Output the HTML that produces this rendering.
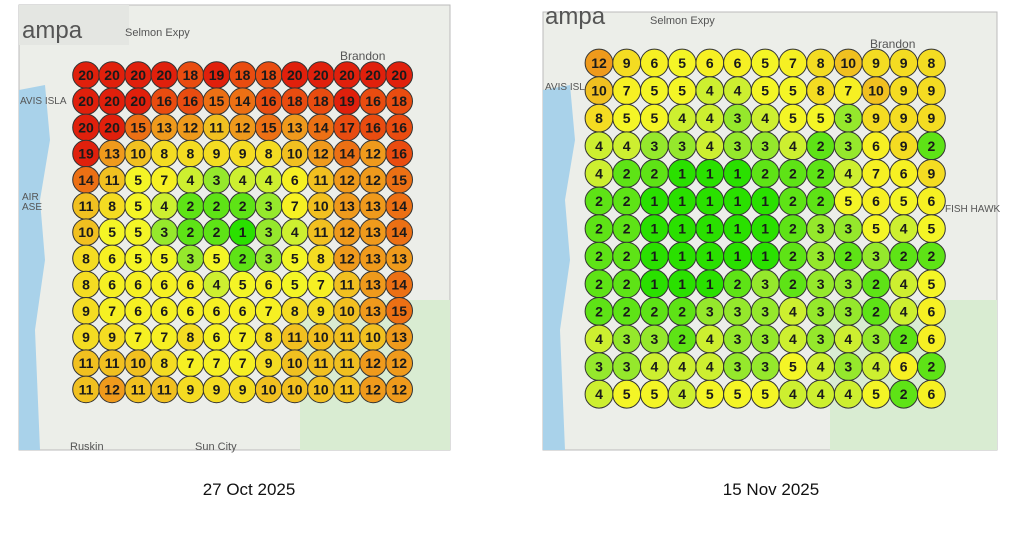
<!DOCTYPE html>
<html><head><meta charset="utf-8"><style>
html,body{margin:0;padding:0;background:#fff;width:1023px;height:534px;overflow:hidden;font-family:"Liberation Sans",sans-serif}
svg{position:absolute;left:0;top:0}
</style></head><body>
<svg id="chart" width="1023" height="534">
  <g>
    <rect x="19" y="5" width="431" height="445" fill="#eceee9" stroke="#bbb"/>
    <path d="M19 90 L45 85 L50 140 L40 200 L45 260 L35 330 L40 450 L19 450 Z" fill="#a9d2ea"/>
    <rect x="300" y="300" width="150" height="150" fill="#d9ecd2"/>
    <rect x="19" y="5" width="110" height="40" fill="#e4e6e2"/>
    <text x="22" y="38" font-size="24" fill="#555">ampa</text>
    <text x="125" y="36" font-size="11" fill="#555">Selmon Expy</text>
    <text x="340" y="60" font-size="12" fill="#555">Brandon</text>
    <text x="20" y="104" font-size="10" fill="#555">AVIS ISLA</text>
    <text x="22" y="200" font-size="10" fill="#555">AIR</text>
    <text x="22" y="210" font-size="10" fill="#555">ASE</text>
    <text x="70" y="450" font-size="11" fill="#555">Ruskin</text>
    <text x="195" y="450" font-size="11" fill="#555">Sun City</text>
  </g>
  <g>
    <rect x="543" y="12" width="454" height="438" fill="#eceee9" stroke="#bbb"/>
    <path d="M543 90 L570 85 L575 140 L565 200 L570 260 L560 330 L565 450 L543 450 Z" fill="#a9d2ea"/>
    <rect x="830" y="300" width="167" height="150" fill="#d9ecd2"/>
    <text x="545" y="24" font-size="24" fill="#555">ampa</text>
    <text x="650" y="24" font-size="11" fill="#555">Selmon Expy</text>
    <text x="870" y="48" font-size="12" fill="#555">Brandon</text>
    <text x="545" y="90" font-size="10" fill="#555">AVIS ISLA</text>
    <text x="945" y="212" font-size="10" fill="#555">FISH HAWK</text>
  </g>
  <text x="249" y="495" font-size="17" text-anchor="middle" fill="#111">27 Oct 2025</text>
  <text x="771" y="495" font-size="17" text-anchor="middle" fill="#111">15 Nov 2025</text>
</svg>
<script>
const gridOct = [
[20,20,20,20,18,19,18,18,20,20,20,20,20],
[20,20,20,16,16,15,14,16,18,18,19,16,18],
[20,20,15,13,12,11,12,15,13,14,17,16,16],
[19,13,10,8,8,9,9,8,10,12,14,12,16],
[14,11,5,7,4,3,4,4,6,11,12,12,15],
[11,8,5,4,2,2,2,3,7,10,13,13,14],
[10,5,5,3,2,2,1,3,4,11,12,13,14],
[8,6,5,5,3,5,2,3,5,8,12,13,13],
[8,6,6,6,6,4,5,6,5,7,11,13,14],
[9,7,6,6,6,6,6,7,8,9,10,13,15],
[9,9,7,7,8,6,7,8,11,10,11,10,13],
[11,11,10,8,7,7,7,9,10,11,11,12,12],
[11,12,11,11,9,9,9,10,10,10,11,12,12]];
const gridNov = [
[12,9,6,5,6,6,5,7,8,10,9,9,8],
[10,7,5,5,4,4,5,5,8,7,10,9,9],
[8,5,5,4,4,3,4,5,5,3,9,9,9],
[4,4,3,3,4,3,3,4,2,3,6,9,2],
[4,2,2,1,1,1,2,2,2,4,7,6,9],
[2,2,1,1,1,1,1,2,2,5,6,5,6],
[2,2,1,1,1,1,1,2,3,3,5,4,5],
[2,2,1,1,1,1,1,2,3,2,3,2,2],
[2,2,1,1,1,2,3,2,3,3,2,4,5],
[2,2,2,2,3,3,3,4,3,3,2,4,6],
[4,3,3,2,4,3,3,4,3,4,3,2,6],
[3,3,4,4,4,3,3,5,4,3,4,6,2],
[4,5,5,4,5,5,5,4,4,4,5,2,6]];
const colorStops = [[1,'#2ae000'],[2,'#5ee316'],[3,'#95e82c'],[4,'#cdef30'],[5,'#f4f526'],[7,'#f6f023'],[9,'#f4dc22'],[11,'#f1c020'],[13,'#ef9a1c'],[15,'#ec7014'],[17,'#e94c10'],[20,'#e0200c']];
function color(v){
  for(let i=0;i<colorStops.length-1;i++){
    const a=colorStops[i],b=colorStops[i+1];
    if(v<=b[0]) return v-a[0] < b[0]-v ? a[1] : b[1];
  }
  return colorStops[colorStops.length-1][1];
}
const svg=document.getElementById('chart');
const NS='http://www.w3.org/2000/svg';
function drawGrid(grid,x0,y0,dx,dy,r,name){
  const g=document.createElementNS(NS,'g');
  
  
  grid.forEach((row,i)=>row.forEach((v,j)=>{
    const cx=x0+j*dx, cy=y0+i*dy;
    const c=document.createElementNS(NS,'circle');
    c.setAttribute('cx',cx);c.setAttribute('cy',cy);c.setAttribute('r',r);
    c.setAttribute('fill',color(v));c.setAttribute('stroke','#333');c.setAttribute('stroke-width','1');
    
    
    g.appendChild(c);
    const t=document.createElementNS(NS,'text');
    t.setAttribute('x',cx);t.setAttribute('y',cy+5);
    t.setAttribute('text-anchor','middle');t.setAttribute('font-size','14');t.setAttribute('font-weight','bold');t.setAttribute('fill','#1a1a1a');
    t.textContent=v;
    
    
    g.appendChild(t);
  }));
  svg.appendChild(g);
}
drawGrid(gridOct,86,75,26.1,26.2,13.3,'grid-oct-27');
drawGrid(gridNov,599,63,27.7,27.6,13.9,'grid-nov-15');
</script>
</body></html>
